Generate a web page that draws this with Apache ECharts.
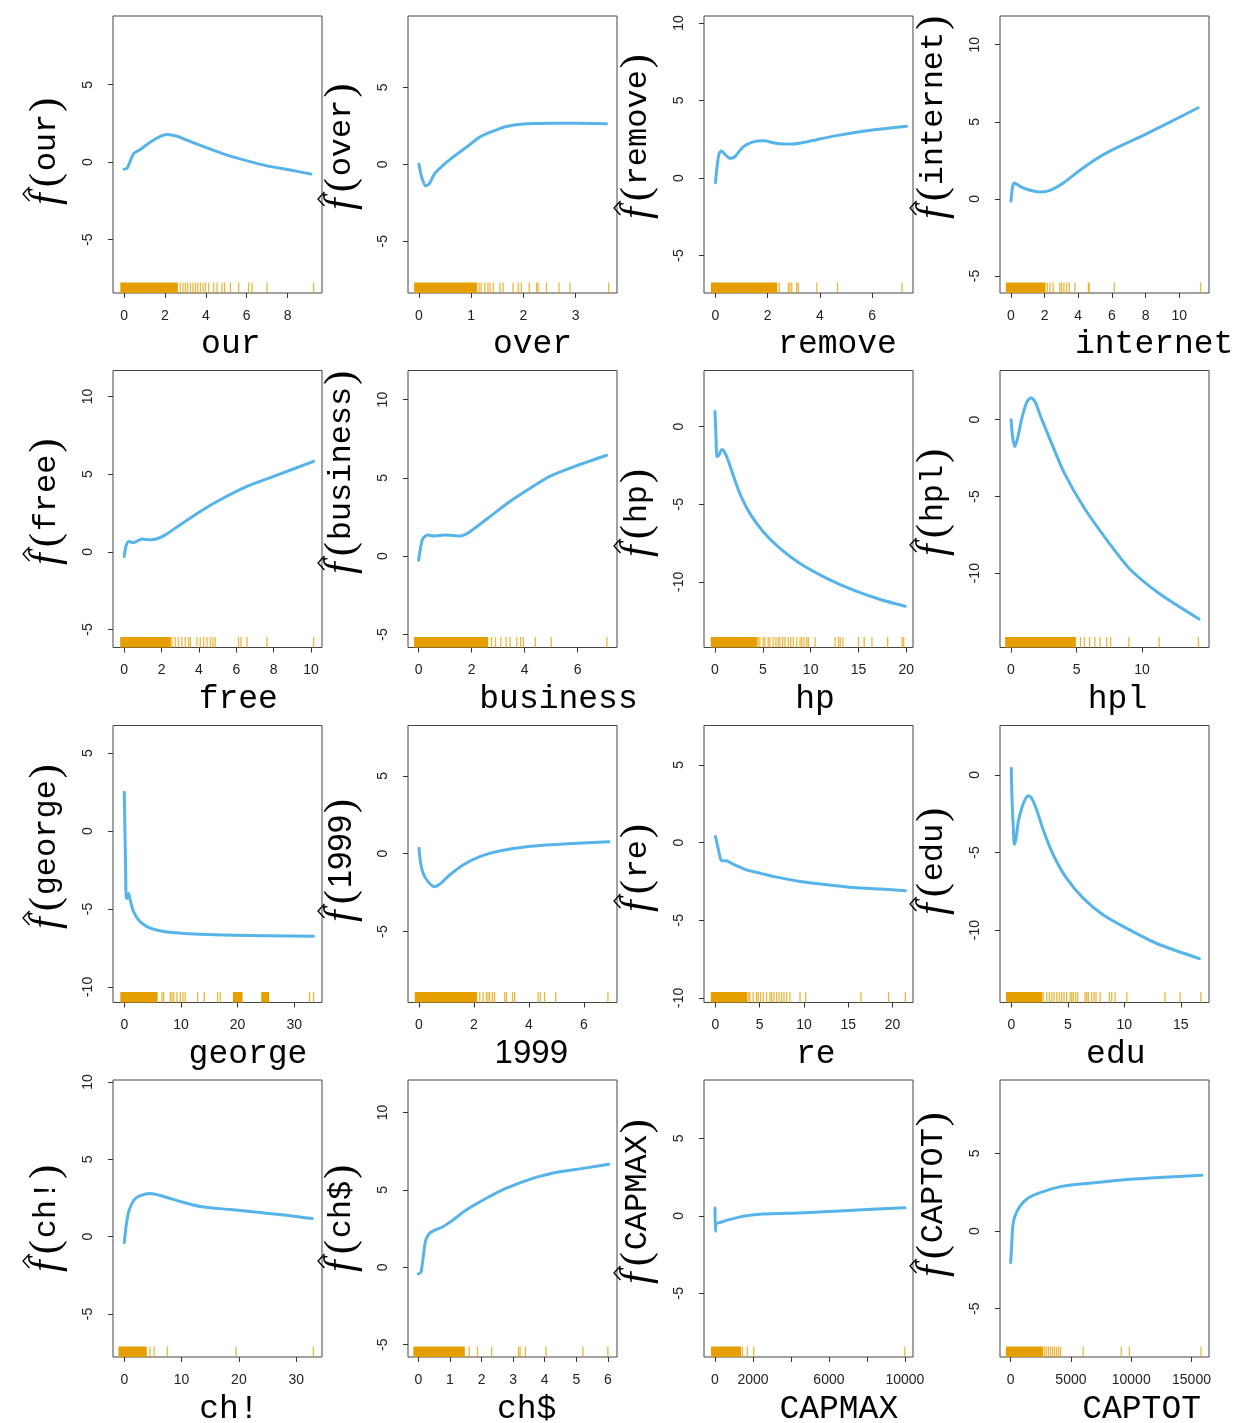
<!DOCTYPE html>
<html><head><meta charset="utf-8">
<script src="https://cdn.jsdelivr.net/npm/echarts@6/dist/echarts.min.js"></script>
<style>html,body{margin:0;padding:0;background:#fff}#c{width:1239px;height:1423px}</style>
</head><body><div id="c"></div>
<script>
// ---------- DATA ----------
const names = ['our','over','remove','internet','free','business','hp','hpl','george','1999','re','edu','ch!','ch$','CAPMAX','CAPTOT'];

const our_x = [0,0.15,0.47,0.8,1.29,1.78,2.1,2.59,3.08,4.06,5.04,6.01,6.99,8.13,9.14];
const our_y = [-0.45,-0.39,0.56,0.82,1.31,1.67,1.78,1.67,1.42,0.92,0.45,0.08,-0.24,-0.51,-0.77];
const our_rugBands = [[-0.15,2.6]];
const our_rugTicks = [2.75,2.88,3.0,3.11,3.24,3.37,3.49,3.6,3.73,3.86,3.98,4.14,4.38,4.55,4.79,4.92,5.2,5.6,6.09,6.26,6.99,9.27];

const over_x = [0,0.05,0.13,0.2,0.3,0.46,0.65,0.91,1.16,1.42,1.67,2.06,2.57,3.59];
const over_y = [0,-0.82,-1.41,-1.25,-0.6,-0.06,0.47,1.12,1.77,2.16,2.46,2.64,2.68,2.64];
const over_rugBands = [[-0.08,1.1]];
const over_rugTicks = [1.15,1.19,1.26,1.32,1.36,1.42,1.55,1.61,1.8,1.9,1.96,2.11,2.25,2.28,2.44,2.68,2.89,3.63];

const remove_x = [0,0.06,0.14,0.23,0.36,0.55,0.74,1.06,1.44,1.83,2.34,2.98,3.49,4.52,5.92,7.31];
const remove_y = [-0.3,0.73,1.59,1.74,1.54,1.27,1.37,2.01,2.33,2.4,2.23,2.19,2.33,2.7,3.08,3.34];
const remove_rugBands = [[-0.15,2.34]];
const remove_rugTicks = [2.44,2.79,2.85,2.92,3.11,3.17,3.88,4.67,7.14];

const internet_x = [0,0.1,0.2,0.53,1.13,1.72,2.32,3.11,4.1,5.09,6.08,7.86,9.45,11.13];
const internet_y = [-0.15,0.78,1.03,0.82,0.56,0.45,0.56,1.04,1.86,2.61,3.21,4.12,4.98,5.91];
const internet_rugBands = [[-0.26,2.02]];
const internet_rugTicks = [2.16,2.32,2.51,2.91,3.01,3.15,3.31,3.47,3.8,4.6,4.65,6.14,11.27];

const free_x = [0,0.09,0.23,0.5,0.95,1.39,1.75,2.2,3.0,4.07,5.14,6.57,8.0,10.14];
const free_y = [-0.3,0.34,0.66,0.6,0.82,0.77,0.84,1.09,1.74,2.6,3.35,4.21,4.85,5.82];
const free_rugBands = [[-0.18,2.46]];
const free_rugTicks = [2.55,2.73,2.91,3.09,3.27,3.45,3.54,3.89,4.07,4.25,4.43,4.61,4.75,4.87,6.12,6.25,6.57,7.64,10.14];

const business_x = [0,0.15,0.34,0.6,0.98,1.55,1.92,2.68,3.43,4.19,4.94,5.89,7.09];
const business_y = [-0.26,1.1,1.35,1.29,1.35,1.29,1.55,2.52,3.48,4.32,5.1,5.74,6.45];
const business_rugBands = [[-0.15,2.6]];
const business_rugTicks = [2.75,2.9,3.1,3.3,3.45,3.7,3.85,3.95,4.4,5.0,7.1];

const hp_x = [0,0.1,0.21,0.42,0.67,0.91,1.36,1.89,2.59,3.64,5.04,6.79,8.89,11.69,14.48,17.28,19.9];
const hp_y = [0.97,-0.65,-1.94,-1.83,-1.5,-1.55,-2.15,-3.12,-4.3,-5.59,-6.77,-7.85,-8.82,-9.78,-10.54,-11.14,-11.57];
const hp_rugBands = [[-0.38,4.34]];
const hp_rugTicks = [4.51,4.69,5.04,5.22,5.56,5.74,6.09,6.37,6.61,6.79,7.07,7.31,7.66,7.91,8.19,8.54,8.89,9.07,9.31,9.59,9.76,10.46,12.56,12.91,13.09,13.37,15.01,15.6,16.41,18.05,19.56,19.73];

const hpl_x = [0,0.15,0.3,0.53,0.84,1.22,1.53,1.83,2.21,2.98,4.12,5.65,7.56,9.08,11.37,14.35];
const hpl_y = [0,-1.3,-1.75,-1.1,0.13,1.17,1.43,1.17,0.32,-1.3,-3.57,-5.84,-8.12,-9.74,-11.36,-12.99];
const hpl_rugBands = [[-0.4,4.9]];
const hpl_rugTicks = [5.3,5.6,6.0,6.4,6.8,7.3,7.6,9.0,11.3,14.3];

const george_x = [0,0.12,0.23,0.35,0.59,0.76,1.06,1.65,2.82,4.59,7.53,13.41,19.29,25.18,33.41];
const george_y = [2.49,-0.04,-2.19,-4.33,-4.22,-4.0,-4.44,-5.19,-5.83,-6.22,-6.47,-6.62,-6.69,-6.71,-6.75];
const george_rugBands = [[-0.58,5.77],[19.29,20.76],[24.29,25.47]];
const george_rugTicks = [6.65,6.94,8.12,8.41,8.71,9.29,9.88,10.35,10.76,12.94,14.12,16.47,16.94,32.7,33.41];

const y1999_x = [0,0.05,0.15,0.33,0.55,0.75,1.12,1.6,2.21,2.93,3.91,5.12,6.91];
const y1999_y = [0.35,-0.51,-1.26,-1.8,-2.12,-1.97,-1.37,-0.73,-0.19,0.17,0.45,0.6,0.77];
const y1999_rugBands = [[-0.13,2.09]];
const y1999_rugTicks = [2.21,2.33,2.45,2.51,2.57,2.67,2.75,3.12,3.18,3.4,3.48,4.33,4.41,4.57,4.97,6.87];

const re_x = [0,0.3,0.68,1.25,1.99,3.51,5.02,6.91,9.55,12.57,15.58,18.61,21.44];
const re_y = [0.39,-0.36,-1.16,-1.18,-1.39,-1.76,-1.97,-2.23,-2.51,-2.72,-2.9,-3.0,-3.11];
const re_rugBands = [[-0.45,3.51]];
const re_rugTicks = [3.7,3.88,4.26,4.64,4.83,5.09,5.39,5.77,6.15,6.34,6.6,6.91,7.2,7.47,7.74,8.04,8.41,9.55,10.19,16.42,19.55,21.44];

const edu_x = [0,0.06,0.18,0.27,0.42,0.62,0.92,1.21,1.51,1.81,2.25,2.83,3.72,4.9,6.38,8.15,10.22,12.88,16.65];
const edu_y = [0.43,-1.5,-3.44,-4.47,-4.09,-3.01,-2.15,-1.61,-1.35,-1.5,-2.26,-3.55,-5.16,-6.67,-7.95,-9.03,-9.89,-10.86,-11.83];
const edu_rugBands = [[-0.41,2.69]];
const edu_rugTicks = [2.83,3.13,3.37,3.58,3.78,4.02,4.25,4.46,4.67,4.9,5.2,5.35,5.49,5.7,5.88,6.53,6.68,6.82,7.12,7.33,7.5,7.86,8.68,8.89,9.19,10.22,13.61,14.94,16.78];

const chExcl_x = [0,0.35,0.87,1.75,2.79,4.54,6.28,9.77,13.26,18.5,23.7,28.97,32.8];
const chExcl_y = [-0.39,0.78,1.75,2.4,2.66,2.79,2.66,2.27,1.95,1.75,1.56,1.36,1.17];
const chExcl_rugBands = [[-0.9,3.8]];
const chExcl_rugTicks = [4.5,5.2,7.5,19.5,33.0];

const chDollar_x = [0,0.08,0.15,0.23,0.34,0.5,0.76,1.08,1.5,2.14,2.77,3.62,4.47,5.21,6.03];
const chDollar_y = [-0.43,-0.32,0.65,1.73,2.17,2.38,2.6,3.03,3.68,4.44,5.09,5.74,6.17,6.39,6.65];
const chDollar_rugBands = [[-0.14,1.45]];
const chDollar_rugTicks = [1.61,1.87,2.32,3.17,3.22,3.39,4.04,5.21,6.0];

const capmax_x = [0,20,60,300,800,1650,2500,4700,6800,10000];
const capmax_y = [0.5,-1.0,-0.52,-0.42,-0.23,0,0.11,0.2,0.33,0.52];
const capmax_rugBands = [[-174,1333]];
const capmax_rugTicks = [1444,1702,2044,10000];

const captot_x = [0,67,175,341,749,1431,2446,4143,6522,9235,12296,15857];
const captot_y = [-2.04,-1.23,0.28,0.92,1.57,2.11,2.47,2.86,3.08,3.29,3.44,3.59];
const captot_rugBands = [[-341,2621]];
const captot_rugTicks = [2787,2953,3128,3295,3469,3636,3802,3977,4143,6015,9168,9850,15790];

// tick values / tick labels
const xTicks = [
  [0,2,4,6,8],[0,1,2,3],[0,2,4,6],[0,2,4,6,8,10],
  [0,2,4,6,8,10],[0,2,4,6],[0,5,10,15,20],[0,5,10],
  [0,10,20,30],[0,2,4,6],[0,5,10,15,20],[0,5,10,15],
  [0,10,20,30],[0,1,2,3,4,5,6],[0,2000,4000,6000,8000,10000],[0,5000,10000,15000]
];
const xTickLabels = [
  [0,2,4,6,8],[0,1,2,3],[0,2,4,6],[0,2,4,6,8,10],
  [0,2,4,6,8,10],[0,2,4,6],[0,5,10,15,20],[0,5,10],
  [0,10,20,30],[0,2,4,6],[0,5,10,15,20],[0,5,10,15],
  [0,10,20,30],[0,1,2,3,4,5,6],[0,2000,6000,10000],[0,5000,10000,15000]
];
const yTicks = [
  [-5,0,5],[-5,0,5],[-5,0,5,10],[-5,0,5,10],
  [-5,0,5,10],[-5,0,5,10],[-10,-5,0],[-10,-5,0],
  [-10,-5,0,5],[-5,0,5],[-10,-5,0,5],[-10,-5,0],
  [-5,0,5,10],[-5,0,5,10],[-5,0,5],[-5,0,5]
];

// ---------- LAYOUT / SCALES ----------
const curves = [
  [our_x,our_y,our_rugBands,our_rugTicks],
  [over_x,over_y,over_rugBands,over_rugTicks],
  [remove_x,remove_y,remove_rugBands,remove_rugTicks],
  [internet_x,internet_y,internet_rugBands,internet_rugTicks],
  [free_x,free_y,free_rugBands,free_rugTicks],
  [business_x,business_y,business_rugBands,business_rugTicks],
  [hp_x,hp_y,hp_rugBands,hp_rugTicks],
  [hpl_x,hpl_y,hpl_rugBands,hpl_rugTicks],
  [george_x,george_y,george_rugBands,george_rugTicks],
  [y1999_x,y1999_y,y1999_rugBands,y1999_rugTicks],
  [re_x,re_y,re_rugBands,re_rugTicks],
  [edu_x,edu_y,edu_rugBands,edu_rugTicks],
  [chExcl_x,chExcl_y,chExcl_rugBands,chExcl_rugTicks],
  [chDollar_x,chDollar_y,chDollar_rugBands,chDollar_rugTicks],
  [capmax_x,capmax_y,capmax_rugBands,capmax_rugTicks],
  [captot_x,captot_y,captot_rugBands,captot_rugTicks]
];
const xRange = [
  [-0.54,9.68],[-0.21,3.79],[-0.44,7.56],[-0.65,11.77],
  [-0.6,10.59],[-0.4,7.48],[-1.15,20.7],[-0.84,15.11],
  [-1.99,34.9],[-0.4,7.2],[-1.29,22.3],[-1.0,17.5],
  [-1.97,34.5],[-0.33,6.29],[-580,10427],[-882,16450]
];
const yRange = [
  [-8.45,9.44],[-8.37,9.65],[-7.42,10.45],[-6.1,11.86],
  [-6.16,11.67],[-5.83,11.86],[-14.23,3.61],[-14.84,3.2],
  [-11.0,6.78],[-9.57,8.24],[-10.3,7.53],[-14.66,3.18],
  [-7.78,10.13],[-5.8,12.1],[-9.12,8.77],[-8.12,9.73]
];
const colLeft = [113,408,704,1000];
const rowTop = [16,370.5,725.5,1080];
const boxW = 209, boxH = 277;
const xLabelCX = [230.8,532.5,837.5,1154.2, 238.3,558.5,815,1117.5, 248,531.3,815.8,1115.8, 229,526.7,838.8,1141.6];
const xLabelCY = [344,699,1054,1409];
const yLabelBottom = [208,213,222,222, 568,577,560,559, 932,925,915,918, 1275,1275,1287,1280];

const BLUE = '#56B4E9', ORANGE = '#E69F00';

const grids = [], xAxes = [], yAxes = [], series = [], graphics = [];
names.forEach((nm, i) => {
  const c = i % 4, r = Math.floor(i / 4);
  const left = colLeft[c], top = rowTop[r];
  grids.push({left, top, width: boxW, height: boxH, show: true, borderColor: '#444', borderWidth: 1,
    backgroundColor: 'transparent', containLabel: false, outerBoundsMode: 'none'});
  const lblStyle = {fontSize: 14, fontFamily: 'Liberation Sans', color: '#222', formatter: v => String(v)};
  xAxes.push({gridIndex: i, type: 'value', min: xRange[i][0], max: xRange[i][1], position: 'bottom',
    axisLine: {show: false, onZero: false}, splitLine: {show: false},
    axisTick: {show: true, length: 5, lineStyle: {color: '#333'}, customValues: xTicks[i]},
    axisLabel: Object.assign({customValues: xTickLabels[i], margin: 16}, lblStyle)});
  yAxes.push({gridIndex: i, type: 'value', min: yRange[i][0], max: yRange[i][1], position: 'left',
    axisLine: {show: false, onZero: false}, splitLine: {show: false},
    axisTick: {show: true, length: 5, lineStyle: {color: '#333'}, customValues: yTicks[i]},
    axisLabel: Object.assign({customValues: yTicks[i], rotate: 90, margin: 18}, lblStyle)});
  const [xs, ys, bands, ticks] = curves[i];
  const ymin = yRange[i][0];
  const rugData = bands.map(b => [b[0], b[1]]).concat(ticks.map(t => [t, t]));
  series.push({type: 'custom', xAxisIndex: i, yAxisIndex: i, silent: true, z: 3,
    data: rugData,
    renderItem: (params, api) => {
      const x0 = api.value(0), x1 = api.value(1);
      const p0 = api.coord([x0, ymin]), p1 = api.coord([x1, ymin]);
      const single = x0 === x1;
      const w = single ? 1.3 : (p1[0] - p0[0] + 1.3);
      return {type: 'rect', shape: {x: p0[0] - 0.65, y: p0[1] - 10.5, width: w, height: 10.5},
        style: {fill: ORANGE, opacity: single ? 0.75 : 1}};
    }});
  series.push({type: 'line', xAxisIndex: i, yAxisIndex: i, silent: true, z: 4,
    data: xs.map((v, k) => [v, ys[k]]), showSymbol: false, symbol: 'none',
    smooth: 0.25,
    lineStyle: {color: BLUE, width: 3, cap: 'round', join: 'round'}});

  // x-axis title
  graphics.push({type: 'text', x: xLabelCX[i], y: xLabelCY[r], silent: true,
    style: {text: nm, fontSize: 33, fontFamily: nm === '1999' ? 'Liberation Sans' : 'Liberation Mono',
      fill: '#000', align: 'center', verticalAlign: 'middle'}});
  // y-axis title  f(name) rotated
  const nameTok = nm === '1999' ? '{d|1999}' : '{n|' + nm + '}';
  graphics.push({type: 'text', x: left - 66, y: yLabelBottom[i] - 1, rotation: Math.PI / 2, silent: true,
    style: {text: '{f|f}{p|(}' + nameTok + '{p|)}', align: 'left', verticalAlign: 'middle', fill: '#000',
      rich: {
        f: {fontFamily: 'Liberation Serif', fontStyle: 'italic', fontSize: 42, fill: '#000', padding: [0, 4, 0, 2]},
        p: {fontFamily: 'Liberation Serif', fontSize: 42, fill: '#000', padding: [0, 2, 0, 2]},
        n: {fontFamily: 'Liberation Mono', fontSize: 32, fill: '#000'},
        d: {fontFamily: 'Liberation Sans', fontSize: 33, fill: '#000'}
      }}});
  // the hat of f-hat
  const hx = left - 87, hy = yLabelBottom[i] - 14;
  graphics.push({type: 'polyline', silent: true,
    shape: {points: [[hx + 3.5, hy - 7], [hx - 3, hy], [hx + 3.5, hy + 7]]},
    style: {stroke: '#000', lineWidth: 1.3, fill: null}});
});

const chart = echarts.init(document.getElementById('c'), null, {renderer: 'canvas', width: 1239, height: 1423});
chart.setOption({
  animation: false,
  backgroundColor: '#fff',
  textStyle: {fontFamily: 'Liberation Sans'},
  grid: grids, xAxis: xAxes, yAxis: yAxes, series: series, graphic: graphics
});
</script>
</body></html>
